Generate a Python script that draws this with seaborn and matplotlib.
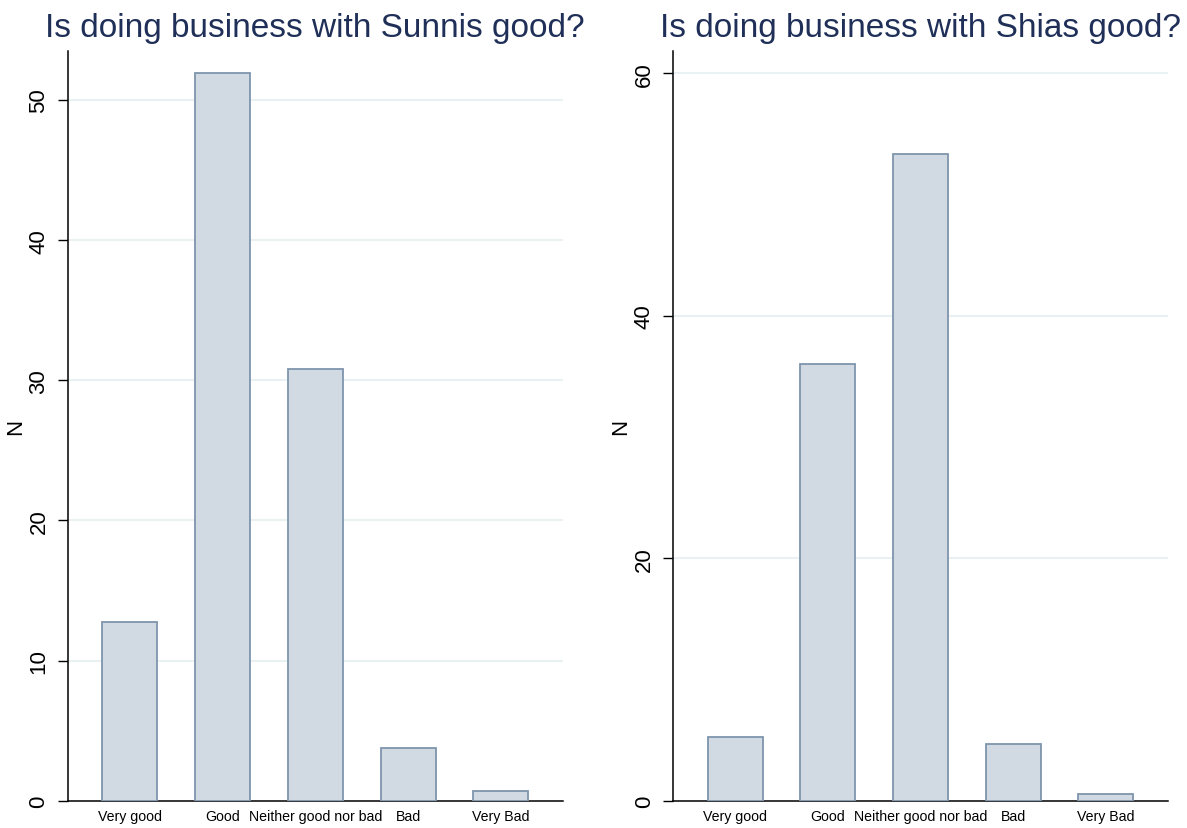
import numpy as np
import seaborn as sns
import matplotlib.pyplot as plt

categories = ["Very good", "Good", "Neither good nor bad", "Bad", "Very Bad"]
sunni_vals = [12.75, 51.9, 30.8, 3.76, 0.69]
shia_vals = [5.26, 36.0, 53.35, 4.68, 0.55]
sunni_ticks = [0, 10, 20, 30, 40, 50]
shia_ticks = [0, 20, 40, 60]

sns.set_style("white")
plt.rcParams['font.family'] = ['Liberation Sans', 'DejaVu Sans']

fig = plt.figure(figsize=(11.87, 8.29), dpi=100)
ax1 = fig.add_axes([0.0569, 0.0329, 0.4174, 0.9044])
ax2 = fig.add_axes([0.567, 0.0329, 0.417, 0.9044])

fill = "#d1d9e2"
edge = "#7f95ad"
title_col = "#1f2f58"

panels = [
    (ax1, sunni_vals, sunni_ticks, 53.5, "Is doing business with Sunnis good?"),
    (ax2, shia_vals, shia_ticks, 61.85, "Is doing business with Shias good?"),
]

for ax, vals, ticks, top, title in panels:
    sns.barplot(x=categories, y=vals, ax=ax, color=fill, edgecolor=edge,
                linewidth=1.3, saturation=1, width=0.593, zorder=3)
    ax.set_xlim(-0.67, 4.67)
    ax.set_ylim(0, top)
    ax.set_yticks(ticks)
    for t in ticks[1:]:
        ax.axhline(t, color="#eaf1f3", lw=1.5, zorder=1)
    for side in ["top", "right"]:
        ax.spines[side].set_visible(False)
    for side in ["left", "bottom"]:
        ax.spines[side].set_color("black")
        ax.spines[side].set_linewidth(1.1)
    ax.tick_params(axis="y", labelrotation=90, labelsize=16, length=7,
                   width=1, color="black", labelcolor="black", left=True, pad=6)
    ax.tick_params(axis="x", labelsize=10.2, length=0, pad=6, labelcolor="black")
    for lab in ax.get_yticklabels():
        lab.set_va("center")
    ax.set_ylabel("N", fontsize=16, labelpad=2, color="black")
    ax.set_xlabel("")
    ax.set_title(title, fontsize=24, color=title_col, pad=11)

fig.savefig("out.png", dpi=100)
